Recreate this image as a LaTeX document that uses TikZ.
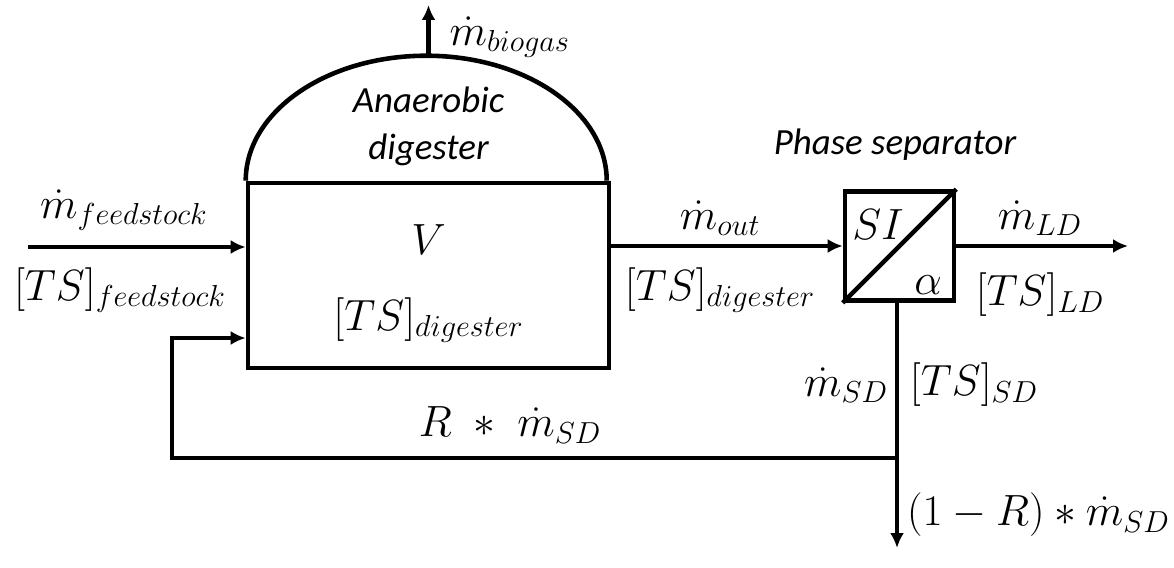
\documentclass[tikz,border=0pt]{standalone}
\usepackage{fontspec}
\setmainfont{Carlito}
\usetikzlibrary{arrows.meta,positioning,calc}

\begin{document}
\begin{tikzpicture}[
    line/.style={line width=2.6pt},
    arrow/.style={line width=2.6pt, -{Latex[length=3mm,width=2.8mm]}},
    lbl/.style={font=\fontsize{23.5}{27}\selectfont, inner sep=1pt},
    txt/.style={font=\fontsize{21}{25}\selectfont\itshape, inner sep=1pt},
    tank/.style={rectangle, draw=black, line width=2.6pt, minimum width=7.22cm, minimum height=3.7cm, inner sep=0pt},
    sepbox/.style={rectangle, draw=black, line width=2.6pt, minimum size=2.18cm, inner sep=0pt}
]
\useasboundingbox (0,0) rectangle (23.48,11.34);

% Digester
\node[tank] (dig) at (8.57, 5.83) {};
\draw[line] (dig.north west) arc[start angle=180, end angle=0, x radius=3.61cm, y radius=2.5cm];
\coordinate (dome) at ($(dig.north)+(0,2.5)$);
\node[txt] (name1) at (8.57, 9.34) {Anaerobic};
\node[txt] (name2) at (8.57, 8.34) {digester};
\node[lbl] (vol) at (8.57, 6.54) {$V$};
\node[lbl] (tsdig) at (8.57, 4.94) {$[TS]_{digester}$};

% Biogas
\coordinate (gas) at (8.57, 11.24);
\draw[arrow] (dome) -- (gas);
\node[lbl, anchor=west] (mgas) at (8.95, 10.6) {$\dot{m}_{biogas}$};

% Feed
\coordinate (feed) at (0.56, 6.40);
\draw[arrow] (feed) -- (feed -| dig.west);
\node[lbl] (mfeed) at (2.48, 7.14) {$\dot{m}_{feedstock}$};
\node[lbl] (tsfeed) at (2.4, 5.54) {$[TS]_{feedstock}$};

% Phase separator
\node[sepbox] (sep) at (17.99, 6.42) {};
\draw[line] (sep.south west) -- (sep.north east);
\node[lbl] (si) at (17.56, 6.84) {$SI$};
\node[lbl] (alpha) at (18.56, 5.64) {$\alpha$};
\node[txt] (sepname) at (17.9, 8.44) {Phase separator};

% Digester outlet
\draw[arrow] (dig.east |- sep.west) -- (sep.west);
\node[lbl] (mout) at (14.4, 6.98) {$\dot{m}_{out}$};
\node[lbl] (tsout) at (14.4, 5.54) {$[TS]_{digester}$};

% Liquid digestate
\coordinate (ld) at (22.56, 6.42);
\draw[arrow] (sep.east) -- (ld);
\node[lbl] (mld) at (20.8, 6.98) {$\dot{m}_{LD}$};
\node[lbl] (tsld) at (20.8, 5.44) {$[TS]_{LD}$};

% Solid digestate and recycle
\coordinate (split) at (17.94, 2.18);
\coordinate (sd) at (17.94, 0.38);
\coordinate (corner) at (3.44, 2.18);
\coordinate (back) at (3.44, 4.58);
\draw[line] (sep.south -| split) -- (split);
\draw[arrow] (split) -- (sd);
\draw[arrow] (split) -- (corner) -- (back) -- (back -| dig.west);
\node[lbl] (msd) at (16.92, 3.64) {$\dot{m}_{SD}$};
\node[lbl] (tssd) at (19.48, 3.64) {$[TS]_{SD}$};
\node[lbl] (rsd) at (10.2, 2.84) {$R\;\ast\;\dot{m}_{SD}$};
\node[lbl, anchor=west] (osd) at (18.1, 1.04) {$(1-R)\ast\dot{m}_{SD}$};

\end{tikzpicture}
\end{document}
